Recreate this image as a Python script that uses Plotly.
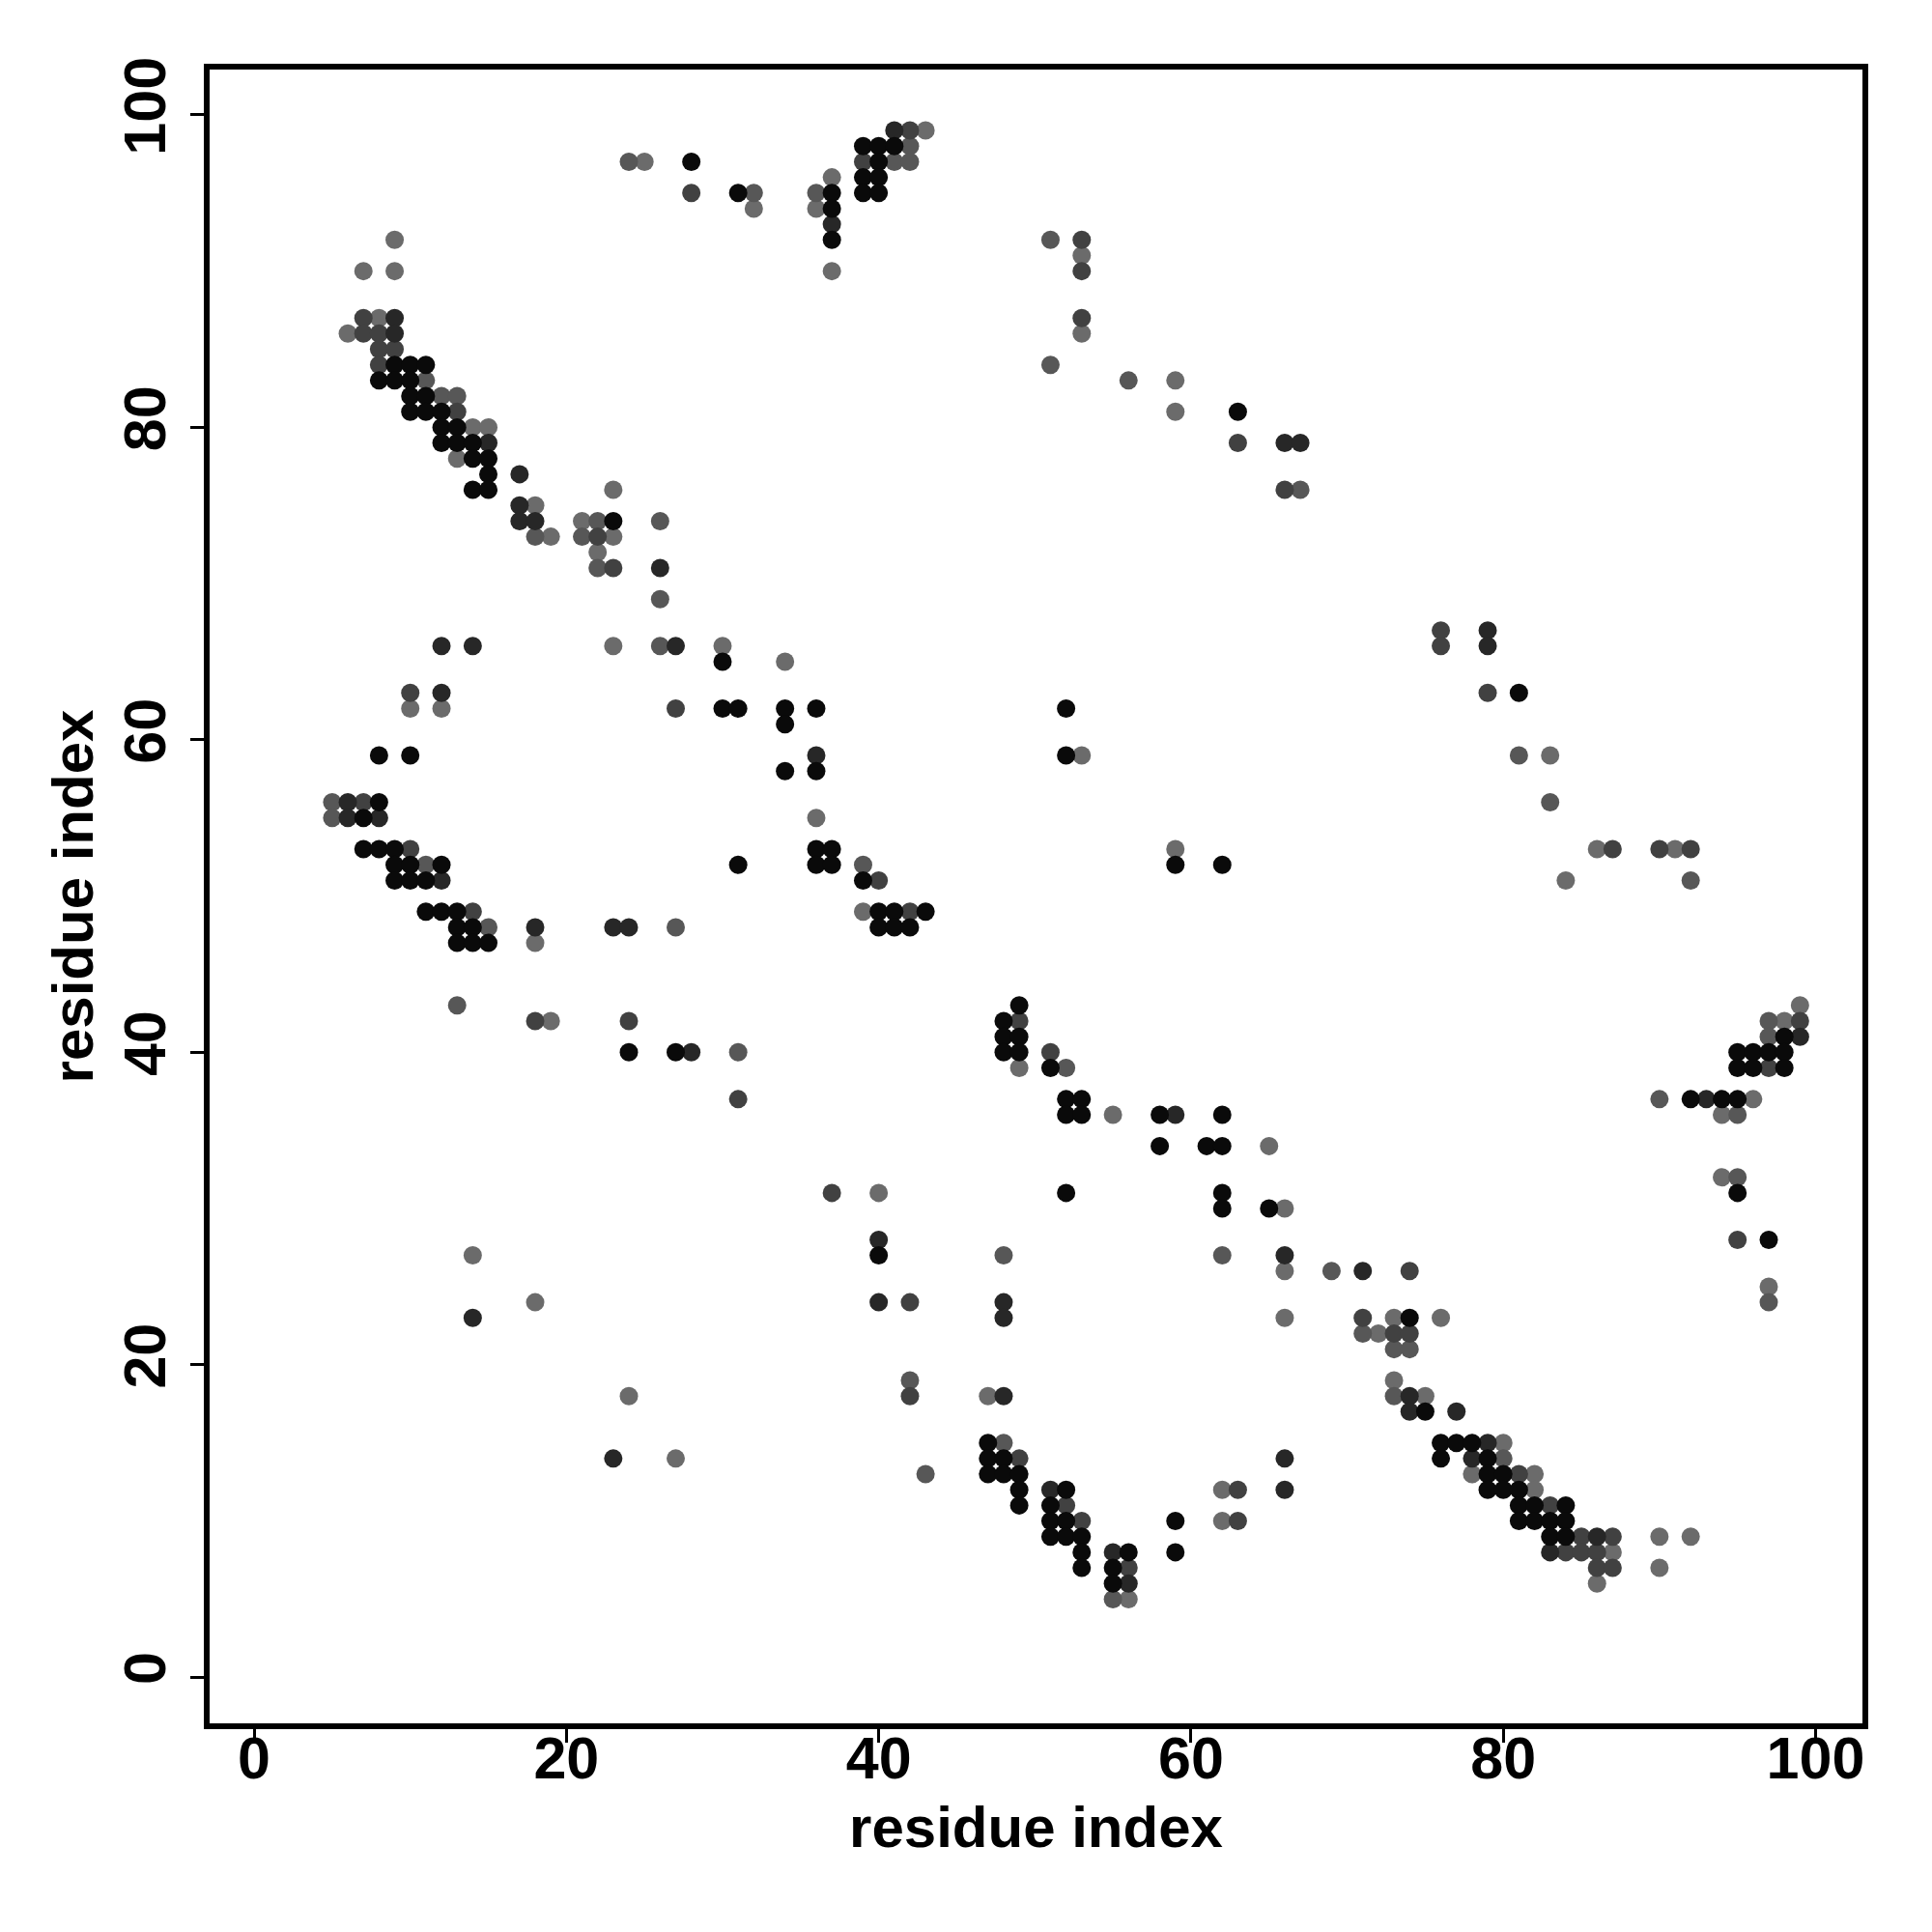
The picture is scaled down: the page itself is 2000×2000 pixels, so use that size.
import plotly.graph_objects as go

# residue-residue contacts: (i, j, confidence level 1=highest .. 5=lowest)
res_i = [
    24,25,28,28,31,32,32,9,7,9,7,8,9,6,7,8,9,8,9,8,9,10,11,8,9,10,11,10,11,12,13,
    10,11,12,13,12,13,14,15,12,13,14,15,13,14,15,15,17,14,15,23,
    17,18,17,18,21,22,23,26,18,19,21,22,23,22,22,23,26,26,12,14,23,26,27,30,30,
    10,12,10,12,27,30,31,8,10,5,6,7,8,5,6,7,8,7,8,9,10,9,10,11,12,31,9,10,11,12,
    11,12,13,14,13,14,15,18,23,24,27,13,14,15,18,13,18,19,24,24,27,28,31,31,14,18,14,
    24,23,27,
    41,42,43,39,40,41,42,39,40,41,42,37,39,40,36,37,39,40,36,37,37,37,51,53,53,37,53,
    53,53,51,56,59,59,63,63,66,67,66,67,
    34,34,36,52,34,36,52,53,34,36,36,36,37,59,36,37,39,59,62,39,40,
    39,40,41,42,43,40,41,42,49,48,49,48,49,48,49,51,49,51,52,52,53,52,53,55,58,59,62,
    58,61,62,65,37,40,52,62,62,65,66,40,40,48,62,66,66,40,42,48,48,66,
    42,42,47,48,47,48,47,48,49,43,47,48,49,49,51,52,62,63,66,49,51,52,51,52,53,59,62,63,
    51,52,53,53,55,56,59,53,55,56,55,56,55,56,66,
    76,79,76,79,79,81,81,83,83,86,87,90,91,92,84,92,
    99,97,98,99,97,98,99,95,96,97,98,95,96,97,98,90,92,93,94,95,96,94,95,94,95,95,95,97,
    97,97,69,71,74,
    71,73,74,76,71,72,73,74,73,74,73,73,74,75,74,75,77,76,77,78,79,80,76,78,79,80,
    78,79,80,81,82,79,80,81,82,81,82,83,84,81,82,83,84,83,84,85,86,87,90,92,83,84,85,86,87,
    86,87,90,86,
]
res_j = [
    97,97,97,95,95,95,94,92,90,90,87,87,87,86,86,86,86,85,85,84,84,84,84,83,83,83,83,82,82,82,82,
    81,81,81,81,80,80,80,80,79,79,79,79,78,78,78,77,77,76,76,76,
    75,75,74,74,74,74,74,74,73,73,73,73,73,72,71,71,71,69,66,66,66,66,66,66,65,
    63,63,62,62,62,62,62,59,59,56,56,56,56,55,55,55,55,53,53,53,53,52,52,52,52,52,51,51,51,51,
    49,49,49,49,48,48,48,48,48,48,48,47,47,47,47,43,42,42,42,40,40,40,40,37,27,24,23,
    18,14,14,
    99,99,99,98,98,98,98,97,97,97,97,96,96,96,95,95,95,95,94,94,93,92,92,92,91,90,90,
    87,86,84,83,83,81,81,79,79,79,76,76,
    65,62,62,62,61,59,59,59,58,58,55,53,53,53,52,52,52,52,52,51,51,
    49,49,49,49,49,48,48,48,43,42,42,41,41,40,40,40,39,39,39,37,37,36,36,36,36,36,36,
    34,34,34,34,31,31,31,31,30,30,30,28,27,27,27,27,26,24,24,24,23,23,
    19,18,18,18,15,15,14,14,14,13,13,13,13,12,12,12,12,12,12,11,11,11,10,10,10,10,10,10,
    9,9,9,8,8,8,8,7,7,7,6,6,5,5,14,
    67,67,66,66,63,63,59,59,56,53,53,53,53,53,51,51,
    43,42,42,42,41,41,41,40,40,40,40,39,39,39,39,37,37,37,37,37,37,36,36,32,32,31,28,28,
    25,24,26,26,26,
    23,23,23,23,22,22,22,22,21,21,19,18,18,18,17,17,17,15,15,15,15,15,14,14,14,14,
    13,13,13,13,13,12,12,12,12,11,11,11,11,10,10,10,10,9,9,9,9,9,9,9,8,8,8,8,8,
    7,7,7,6,
]
level = [
    4,5,1,3,1,4,5,5,5,5,3,5,2,5,3,3,2,3,3,3,1,1,1,1,1,1,4,1,1,4,4,
    1,1,1,3,1,1,5,5,1,1,1,2,5,1,1,1,2,1,1,5,
    2,5,2,2,5,4,1,4,4,5,4,3,5,5,4,3,2,4,2,2,5,4,2,5,1,
    3,2,5,5,3,1,1,1,1,4,2,3,1,4,2,1,2,1,1,1,3,1,1,4,1,1,1,1,1,2,
    1,1,1,3,1,1,4,2,2,2,4,1,1,1,5,4,3,5,3,1,1,2,4,3,5,5,2,
    5,2,5,
    2,3,5,1,1,1,4,3,1,4,4,5,1,1,4,1,1,1,5,1,2,1,4,3,5,5,3,
    3,5,4,4,5,5,1,3,2,2,3,4,
    5,1,1,1,1,2,1,5,1,1,5,1,1,5,1,1,4,1,1,1,3,
    5,1,1,3,1,1,1,1,1,1,3,1,1,1,1,3,5,1,4,1,1,1,1,5,1,2,1,
    1,1,1,5,3,5,1,1,1,1,5,2,1,4,4,2,5,2,3,2,2,5,
    4,3,5,2,1,4,1,1,3,4,1,1,1,1,2,1,5,3,2,1,1,3,1,1,3,1,5,3,
    1,1,1,1,2,1,1,1,1,3,1,2,4,5,2,
    3,2,3,2,3,1,4,5,4,5,3,3,5,3,5,4,
    5,4,5,3,4,1,2,1,1,1,1,1,1,3,1,4,1,2,1,1,5,5,4,5,4,1,3,1,
    5,4,4,2,3,
    3,5,1,5,4,5,3,3,4,4,5,4,2,5,2,1,2,1,1,1,2,5,1,2,1,4,
    5,1,1,3,5,1,1,1,5,1,1,3,1,1,1,1,1,1,1,3,2,3,5,5,2,3,3,3,5,
    3,3,5,5,
]

level_colors = {1: "#0a0a0a", 2: "#272727", 3: "#414141", 4: "#575757", 5: "#6b6b6b"}

fig = go.Figure()
for lv in [5, 4, 3, 2, 1]:
    xs = [x for x, l in zip(res_i, level) if l == lv]
    ys = [y for y, l in zip(res_j, level) if l == lv]
    fig.add_trace(go.Scatter(
        x=xs, y=ys, mode="markers",
        marker=dict(size=19, color=level_colors[lv], line=dict(width=0)),
        showlegend=False, hoverinfo="x+y",
    ))

font_fam = "Liberation Sans, Arial, Helvetica, sans-serif"
axis_common = dict(
    showgrid=False, zeroline=False,
    showline=True, linecolor="black", linewidth=5.5, mirror=True,
    ticks="outside", ticklen=14, tickwidth=3, tickcolor="black",
    tickvals=[0, 20, 40, 60, 80, 100],
    tickfont=dict(family=font_fam, size=61, color="black", weight="bold"),
)
title_font = dict(family=font_fam, size=60, color="black", weight="bold")
fig.update_xaxes(
    range=[-2.85, 103.0], ticklabelstandoff=-36,
    title=dict(text="residue index", font=title_font, standoff=19),
    **axis_common,
)
fig.update_yaxes(
    range=[-2.95, 102.9], tickangle=-90, ticklabelstandoff=2,
    title=dict(text="residue index", font=title_font, standoff=2),
    **axis_common,
)
fig.update_layout(
    width=2000, height=2000,
    margin=dict(l=209, r=80, t=64, b=224, autoexpand=False),
    plot_bgcolor="white", paper_bgcolor="white",
)
fig.write_html("out.html")
